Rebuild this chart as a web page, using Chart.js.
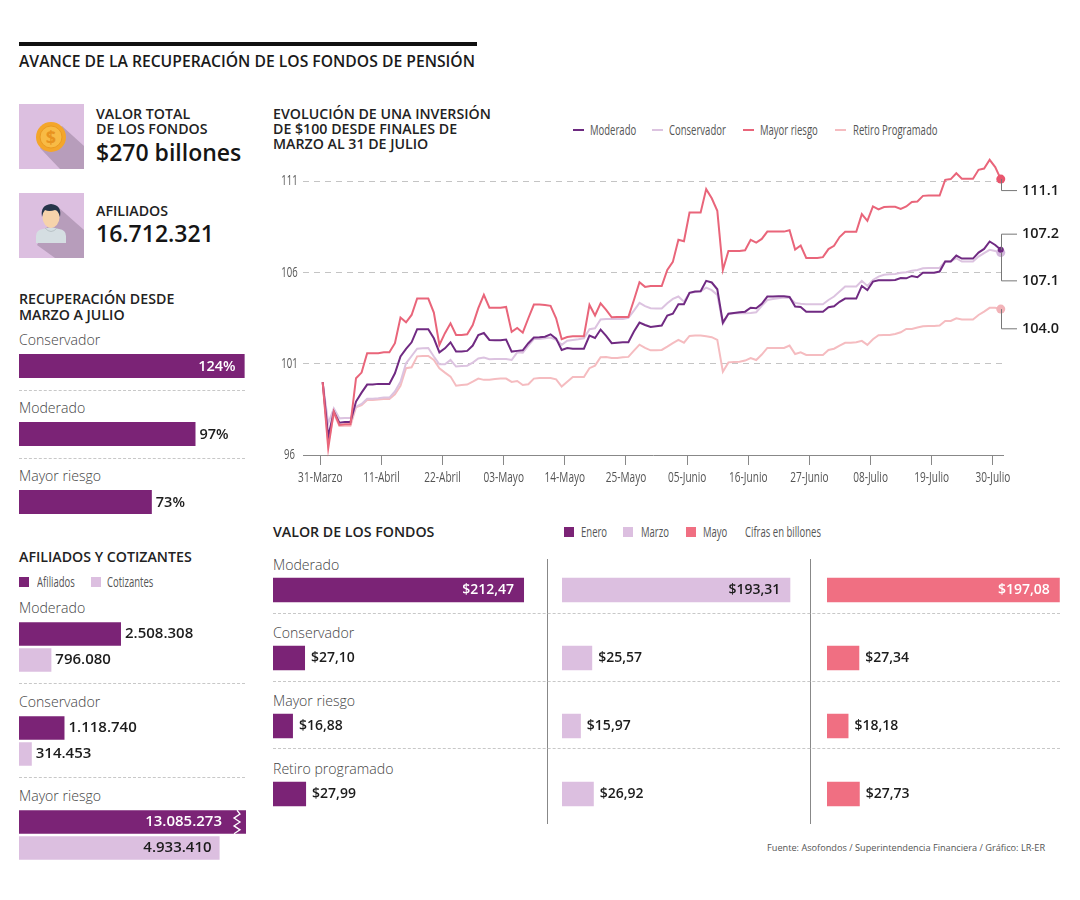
<!DOCTYPE html>
<html lang="es">
<head>
<meta charset="utf-8">
<title>Avance de la recuperación de los fondos de pensión</title>
<script src="https://cdn.jsdelivr.net/npm/chart.js@4"></script>
<style>
html,body{margin:0;padding:0;background:#fff;}
#page{position:relative;width:1080px;height:900px;overflow:hidden;font-family:"Open Sans",sans-serif;color:#222;}
#page canvas{position:absolute;}
.t{position:absolute;line-height:20px;white-space:nowrap;}
.h{font-weight:600;font-size:14.2px;color:#222;}
.big{font-weight:600;font-size:23px;color:#151515;line-height:28px;}
.c{font-weight:300;font-size:14.1px;color:#444;}
.n{font-size:14px;font-weight:400;color:#555;transform:scaleX(.68);transform-origin:left center;}
.sq{position:absolute;width:10px;height:10px;}
.ln{position:absolute;width:11px;height:2px;}
.d{position:absolute;height:0;border-top:1px dashed #c8c8c8;}
.v{position:absolute;width:1px;background:#888;}
</style>
</head>
<body>
<div id="page">
  <div style="position:absolute;left:19px;top:42px;width:458px;height:4px;background:#111"></div>
  <div class="t" style="left:19px;top:51px;font-size:15.7px;font-weight:600;color:#1a1a1a">AVANCE DE LA RECUPERACIÓN DE LOS FONDOS DE PENSIÓN</div>

  <svg style="position:absolute;left:19px;top:104px" width="65" height="65" viewBox="0 0 65 65">
    <rect width="65" height="65" fill="#dcbfe0"/>
    <polygon points="21,44 41,65 65,65 65,42 43,22" fill="#b79dbb"/>
    <circle cx="32" cy="33" r="15" fill="#f4a62a"/>
    <circle cx="32" cy="33" r="11" fill="#f8bb45" stroke="#ea9a22" stroke-width="1"/>
    <text x="32" y="39.5" text-anchor="middle" font-family="Open Sans" font-weight="700" font-size="18" fill="#e8931f">$</text>
  </svg>
  <div class="t h" style="left:96px;top:104px">VALOR TOTAL</div>
  <div class="t h" style="left:96px;top:119px">DE LOS FONDOS</div>
  <div class="t big" style="left:96px;top:138px">$270 billones</div>

  <svg style="position:absolute;left:19px;top:193px" width="65" height="65" viewBox="0 0 65 65">
    <rect width="65" height="65" fill="#dcbfe0"/>
    <polygon points="39,14 65,37 65,65 36,65 18,52" fill="#b79dbb"/>
    <path d="M17 50 v-7 q0 -6 7 -7 l8 -2 l8 2 q7 1 7 7 v7 z" fill="#d5dee2"/>
    <path d="M26 35 q6 7 12 0" fill="none" stroke="#b9c3c7" stroke-width="1"/>
    <ellipse cx="32" cy="24" rx="8.5" ry="11" fill="#f6d3ab"/>
    <path d="M23 24 q-2 -12 9 -13 q11 1 9 13 q-2 -7 -5 -7 q-6 2 -10 0 q-2 2 -3 7 z" fill="#26354a"/>
  </svg>
  <div class="t h" style="left:96px;top:201px">AFILIADOS</div>
  <div class="t big" style="left:96px;top:219px">16.712.321</div>

  <div class="t h" style="left:19px;top:289px">RECUPERACIÓN DESDE</div>
  <div class="t h" style="left:19px;top:305px">MARZO A JULIO</div>
  <div class="t c" style="left:19px;top:330px">Conservador</div>
  <div class="d" style="left:19px;top:390px;width:226px"></div>
  <div class="t c" style="left:19px;top:398px">Moderado</div>
  <div class="d" style="left:19px;top:458px;width:226px"></div>
  <div class="t c" style="left:19px;top:466px">Mayor riesgo</div>
  <canvas id="recup" width="240" height="204" style="left:19px;top:332px"></canvas>

  <div class="t h" style="left:19px;top:547px">AFILIADOS Y COTIZANTES</div>
  <div class="sq" style="left:19px;top:577px;background:#7b2376"></div>
  <div class="t n" style="left:37px;top:572px">Afiliados</div>
  <div class="sq" style="left:91px;top:577px;background:#dcbfe0"></div>
  <div class="t n" style="left:107px;top:572px">Cotizantes</div>
  <div class="t c" style="left:19px;top:598px">Moderado</div>
  <div class="d" style="left:19px;top:683px;width:226px"></div>
  <div class="t c" style="left:19px;top:692px">Conservador</div>
  <div class="d" style="left:19px;top:777px;width:226px"></div>
  <div class="t c" style="left:19px;top:786px">Mayor riesgo</div>
  <canvas id="afil" width="227" height="282" style="left:19px;top:600px"></canvas>

  <div class="t h" style="left:273px;top:104px">EVOLUCIÓN DE UNA INVERSIÓN</div>
  <div class="t h" style="left:273px;top:119px">DE $100 DESDE FINALES DE</div>
  <div class="t h" style="left:273px;top:134px">MARZO AL 31 DE JULIO</div>
  <div class="ln" style="left:573px;top:129px;background:#6d2a80"></div>
  <div class="t n" style="left:590px;top:120px">Moderado</div>
  <div class="ln" style="left:652px;top:129px;background:#dcc3e0"></div>
  <div class="t n" style="left:669px;top:120px">Conservador</div>
  <div class="ln" style="left:743px;top:129px;background:#e9657a"></div>
  <div class="t n" style="left:760px;top:120px">Mayor riesgo</div>
  <div class="ln" style="left:835px;top:129px;background:#f5bcc0"></div>
  <div class="t n" style="left:853px;top:120px">Retiro Programado</div>
  <canvas id="linea" width="790" height="350" style="left:270px;top:145px"></canvas>

  <div class="t h" style="left:273px;top:522px">VALOR DE LOS FONDOS</div>
  <div class="sq" style="left:564px;top:527px;background:#7b2376"></div>
  <div class="t n" style="left:581px;top:522px">Enero</div>
  <div class="sq" style="left:623px;top:527px;background:#dcbfe0"></div>
  <div class="t n" style="left:641px;top:522px">Marzo</div>
  <div class="sq" style="left:686px;top:527px;background:#f06f82"></div>
  <div class="t n" style="left:703px;top:522px">Mayo</div>
  <div class="t n" style="left:745px;top:522px">Cifras en billones</div>
  <div class="v" style="left:547px;top:559px;height:265px"></div>
  <div class="v" style="left:810px;top:559px;height:265px"></div>
  <div class="d" style="left:273px;top:613px;width:787px"></div>
  <div class="d" style="left:273px;top:681px;width:787px"></div>
  <div class="d" style="left:273px;top:748px;width:787px"></div>
  <div class="t c" style="left:273px;top:555px">Moderado</div>
  <div class="t c" style="left:273px;top:623px">Conservador</div>
  <div class="t c" style="left:273px;top:691px">Mayor riesgo</div>
  <div class="t c" style="left:273px;top:759px">Retiro programado</div>
  <canvas id="enero" width="267" height="272" style="left:273px;top:555.5px"></canvas>
  <canvas id="marzo" width="240" height="272" style="left:562px;top:555.5px"></canvas>
  <canvas id="mayo" width="240" height="272" style="left:827px;top:555.5px"></canvas>

  <div class="t" style="left:767px;top:838px;font-size:9.2px;color:#555">Fuente: Asofondos / Superintendencia Financiera / Gráfico: LR-ER</div>
</div>
<script>
const PURPLE = '#7b2376', LILAC = '#dcbfe0', CORAL = '#f06f82';

/* Recuperación */
const recupCats = ['Conservador', 'Moderado', 'Mayor riesgo'];
const recupVals = [124, 97, 73];

/* Afiliados y cotizantes */
const afilCats = ['Moderado', 'Conservador', 'Mayor riesgo'];
const afiliados = [2508308, 1118740, 13085273];
const cotizantes = [796080, 314453, 4933410];

/* Valor de los fondos */
const fondosCats = ['Moderado', 'Conservador', 'Mayor riesgo', 'Retiro programado'];
const enero = [212.47, 27.10, 16.88, 27.99];
const marzo = [193.31, 25.57, 15.97, 26.92];
const mayo = [197.08, 27.34, 18.18, 27.73];

/* Evolución de la inversión */
const xTickLabels = ['31-Marzo','11-Abril','22-Abril','03-Mayo','14-Mayo','25-Mayo','05-Junio','16-Junio','27-Junio','08-Julio','19-Julio','30-Julio'];
const yTicks = [96, 101, 106, 111];
const mayorRiesgo = [
100.0,96.37,98.38,97.65,97.68,97.68,100.21,100.52,101.58,101.58,
101.58,101.63,101.63,102.13,103.54,103.28,103.68,104.58,104.58,104.58,
103.81,102.04,102.68,103.22,102.58,102.58,102.62,103.13,104.05,104.78,
104.08,104.08,104.08,104.12,102.75,102.97,102.71,103.50,104.25,104.25,
104.23,104.18,103.50,102.35,102.47,102.51,102.51,102.51,104.23,103.65,
104.32,103.96,103.55,103.57,103.57,103.57,104.50,105.47,105.22,105.27,
105.27,105.27,106.15,106.59,107.80,107.72,109.30,109.30,109.30,110.58,
110.08,109.39,106.15,107.19,107.19,107.19,107.23,107.80,107.65,107.85,
108.25,108.25,108.25,108.25,108.33,107.27,107.49,106.81,106.81,106.81,
106.85,107.29,107.47,107.95,108.24,108.24,108.24,109.21,108.84,109.63,
109.47,109.60,109.61,109.61,109.50,109.63,109.88,109.90,110.21,110.23,
110.23,110.23,111.09,111.13,111.45,111.15,111.15,111.15,111.64,111.71,
112.19,111.79,111.13];
const moderado = [
100.0,97.00,98.38,97.77,97.81,97.81,98.93,99.42,99.86,99.86,
99.90,99.90,99.90,100.48,101.40,101.82,102.18,102.90,102.90,102.90,
102.40,101.63,101.85,102.18,101.67,101.67,101.71,102.00,102.58,102.69,
102.31,102.29,102.29,102.33,101.67,101.71,101.74,102.13,102.44,102.46,
102.49,102.62,102.38,101.76,101.87,101.83,101.83,101.83,102.55,102.42,
102.88,102.53,102.13,102.16,102.18,102.18,102.77,103.26,103.13,103.02,
103.06,103.10,103.65,103.75,104.27,104.27,104.89,104.96,104.98,105.55,
105.46,105.09,103.26,103.75,103.79,103.83,103.86,104.08,104.05,104.29,
104.69,104.69,104.71,104.71,104.67,104.14,104.12,103.86,103.86,103.86,
103.86,104.10,104.16,104.40,104.58,104.58,104.58,105.27,105.05,105.51,
105.58,105.58,105.58,105.60,105.71,105.69,105.82,105.75,105.99,106.00,
106.00,106.06,106.61,106.61,106.94,106.77,106.77,106.77,107.10,107.30,
107.71,107.52,107.25];
const conservador = [
100.0,97.74,98.56,98.01,98.03,98.03,98.65,98.80,99.09,99.09,
99.11,99.15,99.15,99.48,100.02,101.03,101.43,101.83,101.85,101.87,
101.40,100.97,100.97,101.21,100.85,100.88,100.90,101.07,101.29,101.34,
101.25,101.27,101.27,101.27,101.21,101.63,101.61,102.00,102.36,102.36,
102.40,102.44,102.31,102.04,102.27,102.31,102.35,102.40,102.90,102.95,
103.43,103.46,103.46,103.46,103.46,103.52,103.92,104.34,104.16,104.05,
104.03,104.03,104.32,104.56,104.69,104.41,104.89,104.94,104.98,105.18,
105.04,104.78,103.19,103.74,103.77,103.77,103.77,103.79,103.83,104.18,
104.50,104.56,104.60,104.63,104.63,104.34,104.30,104.27,104.27,104.27,
104.27,104.50,104.69,104.96,105.24,105.24,105.24,105.55,105.27,105.60,
105.78,105.88,105.91,105.93,105.99,106.02,106.11,106.15,106.24,106.26,
106.26,106.26,106.63,106.61,106.79,106.61,106.61,106.61,106.88,107.07,
107.25,107.19,107.10];
const retiro = [
100.0,96.64,98.29,97.59,97.61,97.61,98.62,98.74,99.02,99.02,
99.05,99.07,99.07,99.33,99.79,100.76,100.81,101.41,101.43,101.43,
101.21,100.76,100.52,100.30,99.80,99.84,99.86,100.02,100.19,100.12,
100.13,100.17,100.19,100.19,100.01,100.06,99.84,99.88,100.19,100.22,
100.22,100.22,100.15,99.75,100.02,100.28,100.28,100.28,100.76,100.90,
101.36,101.38,101.32,101.32,101.36,101.38,101.72,102.05,101.87,101.74,
101.74,101.76,101.94,102.13,102.31,102.16,102.53,102.55,102.55,102.51,
102.46,102.31,100.57,101.08,101.10,101.12,101.18,101.32,101.21,101.51,
101.87,101.87,101.87,101.87,102.00,101.54,101.63,101.49,101.49,101.49,
101.49,101.76,101.83,102.00,102.15,102.15,102.18,102.26,102.04,102.35,
102.57,102.58,102.58,102.64,102.73,102.91,102.91,102.99,103.06,103.08,
103.08,103.10,103.35,103.35,103.50,103.43,103.43,103.43,103.68,103.86,
104.07,104.08,104.00];
const endLabels = {
  'Mayor riesgo': '111.1', 'Moderado': '107.2', 'Conservador': '107.1', 'Retiro Programado': '104.0'
};

Chart.defaults.animation = false;
Chart.defaults.responsive = false;
Chart.defaults.plugins.legend.display = false;
Chart.defaults.plugins.tooltip.enabled = false;

/* value text on or beside each bar */
const barValues = {
  id: 'barValues',
  afterDatasetsDraw(chart, _a, o) {
    const ctx = chart.ctx, area = chart.chartArea;
    ctx.save();
    ctx.font = o.font;
    ctx.textBaseline = 'middle';
    chart.data.datasets.forEach((ds, di) => {
      chart.getDatasetMeta(di).data.forEach((bar, i) => {
        const val = ds.data[i];
        const txt = o.format(val);
        const clipped = bar.x > area.right;
        const right = Math.min(bar.x, area.right);
        const ty = bar.y + (o.dy || 0);
        if (val > o.insideFrom) {
          ctx.textAlign = 'right';
          ctx.fillStyle = ds.insideColor;
          ctx.fillText(txt, right - (clipped ? 24 : o.insidePad), ty);
        } else {
          ctx.textAlign = 'left';
          ctx.fillStyle = '#1c1c1c';
          ctx.fillText(txt, right + o.outsidePad, ty);
        }
        if (clipped) {
          const x = area.right - 9, h = bar.height, top = bar.y - h / 2;
          ctx.strokeStyle = '#fff';
          ctx.lineWidth = 1.3;
          ctx.beginPath();
          ctx.moveTo(x, top);
          for (let k = 1; k <= 6; k++) ctx.lineTo(x + (k % 2 ? 3 : -3), top + h * k / 6);
          ctx.stroke();
        }
      });
    });
    ctx.restore();
  }
};

function hbarChart(id, cats, datasets, axisMax, labelOpts, geom) {
  return new Chart(document.getElementById(id), {
    type: 'bar',
    data: { labels: cats, datasets },
    plugins: [barValues],
    options: {
      indexAxis: 'y',
      layout: { padding: 0, autoPadding: false },
      categoryPercentage: geom.cat,
      barPercentage: geom.bar,
      scales: {
        x: { display: false, min: 0, max: axisMax },
        y: { display: false }
      },
      plugins: { barValues: labelOpts }
    }
  });
}

const pct = v => v + '%';
const miles = v => String(v).replace(/\B(?=(\d{3})+$)/g, '.');
const pesos = v => '$' + v.toFixed(2).replace('.', ',');

hbarChart('recup', recupCats,
  [{ data: recupVals, backgroundColor: PURPLE, insideColor: '#fff' }], 131.9,
  { format: pct, font: '600 14.5px "Open Sans"', insideFrom: 100, insidePad: 9, outsidePad: 4, dy: 1 }, { cat: 24 / 68, bar: 1 });

hbarChart('afil', afilCats, [
  { data: afiliados, backgroundColor: PURPLE, insideColor: '#fff' },
  { data: cotizantes, backgroundColor: LILAC, insideColor: '#1c1c1c' }
], 5583000,
  { format: miles, font: '600 15px "Open Sans"', insideFrom: 4000000, insidePad: 8, outsidePad: 4 }, { cat: 52 / 94, bar: 23.5 / 26 });

const fondosOpts = { format: pesos, font: '600 14px "Open Sans"', insideFrom: 100, insidePad: 10, outsidePad: 6 };
hbarChart('enero', fondosCats, [{ data: enero, backgroundColor: PURPLE, insideColor: '#fff' }], 226, fondosOpts, { cat: 24.5 / 68, bar: 1 });
hbarChart('marzo', fondosCats, [{ data: marzo, backgroundColor: LILAC, insideColor: '#1c1c1c' }], 203.2, fondosOpts, { cat: 24.5 / 68, bar: 1 });
hbarChart('mayo', fondosCats, [{ data: mayo, backgroundColor: CORAL, insideColor: '#fff' }], 203.2, fondosOpts, { cat: 24.5 / 68, bar: 1 });

/* leader lines and final values at the end of each series */
const leaders = {
  id: 'leaders',
  afterDatasetsDraw(chart, _a, o) {
    const ctx = chart.ctx;
    ctx.save();
    chart.data.datasets.forEach((ds, di) => {
      const pts = chart.getDatasetMeta(di).data;
      const p = pts[pts.length - 1];
      const tgt = chart.scales.y.getPixelForValue(o.targets[ds.label]);
      ctx.strokeStyle = '#777';
      ctx.lineWidth = 1;
      ctx.beginPath();
      ctx.moveTo(Math.round(p.x) + 0.5, p.y);
      ctx.lineTo(Math.round(p.x) + 0.5, tgt);
      ctx.lineTo(1017 - 270, tgt);
      ctx.stroke();
      ctx.font = '600 14.5px "Open Sans"';
      ctx.fillStyle = '#1c1c1c';
      ctx.textBaseline = 'middle';
      ctx.textAlign = 'left';
      ctx.fillText(endLabels[ds.label], 1022 - 270, tgt);
    });
    ctx.restore();
  }
};

/* condensed axis labels: the reference uses a narrow face that is not installed */
const narrowTicks = {
  id: 'narrowTicks',
  afterDraw(chart) {
    const ctx = chart.ctx, { x, y } = chart.scales;
    ctx.save();
    ctx.font = '400 14px "Open Sans"';
    ctx.fillStyle = '#555';
    ctx.textAlign = 'center';
    ctx.textBaseline = 'middle';
    x.ticks.forEach((t, i) => {
      ctx.save();
      ctx.translate(x.getPixelForValue(t.value), 478 - 145);
      ctx.scale(0.72, 1);
      ctx.fillText(xTickLabels[i], 0, 0);
      ctx.restore();
    });
    y.ticks.forEach(t => {
      ctx.save();
      ctx.translate(289.5 - 270, y.getPixelForValue(t.value));
      ctx.scale(0.68, 1);
      ctx.fillText(String(t.value), 0, 0);
      ctx.restore();
    });
    ctx.restore();
  }
};

const serie = (label, vals, color, width, dot) => ({
  label,
  data: vals.map((y, x) => ({ x, y })),
  borderColor: color,
  borderWidth: width,
  tension: 0,
  clip: false,
  pointRadius: c => (c.dataIndex === vals.length - 1 ? dot.r : 0),
  pointBackgroundColor: dot.c,
  pointBorderWidth: 0
});

const noPadding = s => { s.paddingLeft = s.paddingRight = s.paddingTop = s.paddingBottom = 0; };

new Chart(document.getElementById('linea'), {
  type: 'line',
  data: { datasets: [
    serie('Mayor riesgo', mayorRiesgo, '#e9657a', 2, { r: 4.5, c: '#e9566e' }),
    serie('Moderado', moderado, '#702a82', 2, { r: 3, c: '#702a82' }),
    serie('Conservador', conservador, '#dcc3e0', 2, { r: 4.5, c: '#d3b7dc' }),
    serie('Retiro Programado', retiro, '#f5bcc0', 2, { r: 4.5, c: '#f2b3b8' })
  ] },
  plugins: [leaders, narrowTicks],
  options: {
    layout: { padding: { right: 57, left: 0, top: 0, bottom: 0 }, autoPadding: false },
    parsing: false,
    scales: {
      x: {
        type: 'linear',
        min: -3.54,
        max: 122.4,
        afterFit: s => { s.height = 40; noPadding(s); },
        afterBuildTicks: s => { s.ticks = xTickLabels.map((_, i) => ({ value: i * 11 - 0.43 })); },
        border: { display: true, color: '#888', width: 1 },
        grid: { display: true, drawOnChartArea: false, drawTicks: true, tickLength: 10, color: '#888' },
        ticks: { display: false, autoSkip: false, maxRotation: 0 }
      },
      y: {
        min: 96,
        max: 113,
        afterFit: s => { s.width = 33; noPadding(s); },
        afterBuildTicks: s => { s.ticks = yTicks.map(value => ({ value })); },
        border: { display: false, dash: [6, 5] },
        grid: { color: '#c4c4c4', drawTicks: false },
        ticks: { display: false }
      }
    },
    plugins: {
      leaders: { targets: { 'Mayor riesgo': 110.5, 'Moderado': 108.11, 'Conservador': 105.55, 'Retiro Programado': 102.92 } }
    }
  }
});
</script>
</body>
</html>
